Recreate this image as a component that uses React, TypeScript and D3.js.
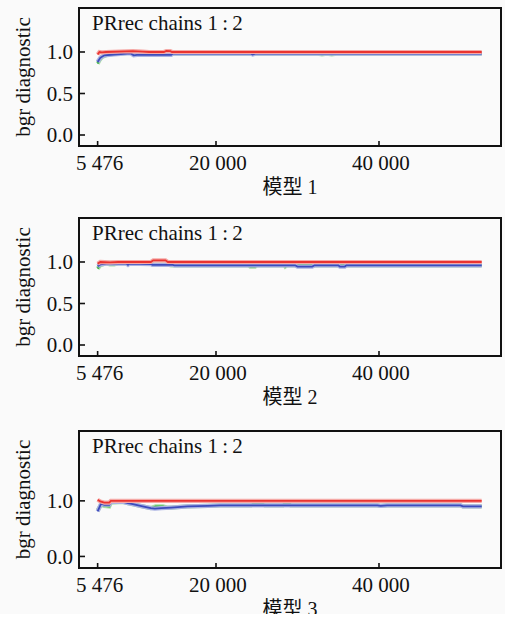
import React from "react";
import * as d3 from "d3";

// x axis (shared by the three panels)
const xTicks = [5476, 20000, 40000];
const xTickLabels = ["5 476", "20 000", "40 000"];
const xDomain: [number, number] = [3190, 54970];

const panelTitles = ["PRrec chains 1\u2009:\u20092", "PRrec chains 1\u2009:\u20092", "PRrec chains 1\u2009:\u20092"];
const panelXLabels = ["模型 1", "模型 2", "模型 3"];

// y ticks per panel
const yTicks12 = [0, 0.5, 1.0];
const yTicks3 = [0, 1.0];

// model 1: [iteration, bgr]
const m1Green: [number, number][] = [
  [5476, 0.86], [5700, 0.9], [6000, 0.94], [6500, 0.96], [7500, 0.98], [9000, 0.99],
  [9800, 1.0], [11000, 1.0], [12500, 0.99], [14000, 1.0], [14500, 0.98], [32500, 0.98],
  [33000, 0.97], [33600, 0.98], [34200, 0.97], [34800, 0.98], [52600, 0.98],
];
const m1Blue: [number, number][] = [
  [5476, 0.88], [5800, 0.93], [6300, 0.96], [7500, 0.97], [9500, 0.985], [9900, 0.96],
  [10300, 0.965], [14500, 0.965], [14700, 0.98], [24300, 0.98], [24500, 0.97],
  [24800, 0.98], [52600, 0.98],
];
const m1Red: [number, number][] = [
  [5476, 0.97], [5700, 1.0], [6000, 0.995], [6500, 1.0], [9800, 1.01], [11000, 1.005],
  [11800, 1.0], [13600, 1.0], [13900, 1.012], [14400, 1.01], [14600, 1.0], [52600, 1.0],
];

// model 2
const m2Green: [number, number][] = [
  [5476, 0.92], [5800, 0.96], [6500, 0.985], [7000, 0.97], [7500, 0.97], [8000, 0.985],
  [12000, 0.985], [12300, 0.97], [14000, 0.97], [14500, 0.96], [24000, 0.96],
  [24200, 0.945], [24800, 0.945], [25000, 0.96], [28400, 0.96], [28500, 0.945],
  [28700, 0.96], [52600, 0.96],
];
const m2Blue: [number, number][] = [
  [5476, 0.95], [5800, 0.97], [6500, 0.98], [9000, 0.98], [9200, 0.965], [9400, 0.98],
  [12000, 0.975], [12200, 0.965], [14700, 0.965], [14900, 0.96], [29700, 0.96],
  [30000, 0.945], [31800, 0.945], [32100, 0.96], [35000, 0.96], [35200, 0.945],
  [35800, 0.945], [36000, 0.96], [52600, 0.96],
];
const m2Red: [number, number][] = [
  [5476, 0.98], [5800, 1.0], [7000, 0.995], [8000, 1.0], [12000, 1.0], [12300, 1.02],
  [13800, 1.02], [14100, 1.0], [52600, 1.0],
];

// model 3
const m3Green: [number, number][] = [
  [5476, 0.83], [5900, 0.93], [6300, 0.91], [6900, 0.9], [7100, 0.97], [8600, 0.98],
  [9200, 0.96], [9800, 0.94], [11000, 0.9], [12000, 0.87], [12600, 0.9], [13500, 0.9],
  [14000, 0.88], [14500, 0.88], [16500, 0.9], [19000, 0.91], [20500, 0.92], [24300, 0.92],
  [24500, 0.94], [25800, 0.94], [26000, 0.92], [28200, 0.92], [28300, 0.94], [29100, 0.94],
  [29200, 0.92], [39800, 0.92], [40200, 0.91], [41000, 0.92], [50000, 0.92], [50300, 0.9],
  [52600, 0.9],
];
const m3Blue: [number, number][] = [
  [5476, 0.81], [5900, 0.95], [6300, 0.93], [6900, 0.93], [7100, 0.98], [8600, 0.98],
  [9200, 0.96], [9800, 0.94], [11000, 0.9], [12000, 0.87], [12500, 0.86], [13300, 0.87],
  [14500, 0.88], [16500, 0.9], [19000, 0.91], [20500, 0.92], [39800, 0.92], [40200, 0.91],
  [41000, 0.92], [50000, 0.92], [50300, 0.9], [52600, 0.9],
];
const m3Red: [number, number][] = [
  [5476, 1.02], [5800, 0.99], [6300, 0.97], [6900, 0.97], [7100, 1.0], [52600, 1.0],
];

const W = 505;
const H = 619;
const left = 79;
const right = 501;
const font = "'Liberation Serif', 'Times New Roman', 'Noto Sans CJK SC', serif";

const colors = {
  green: { line: "#2fae3a", halo: "#a9dca6" },
  blue: { line: "#3c4cbc", halo: "#aab2e2" },
  red: { line: "#ea3330", halo: "#f5a9a6" },
};

type Panel = {
  top: number;
  height: number;
  yDomain: [number, number];
  yTicks: number[];
  series: { pts: [number, number][]; c: { line: string; halo: string } }[];
};

const panels: Panel[] = [
  {
    top: 8, height: 138, yDomain: [-0.1325, 1.53], yTicks: yTicks12,
    series: [{ pts: m1Green, c: colors.green }, { pts: m1Blue, c: colors.blue }, { pts: m1Red, c: colors.red }],
  },
  {
    top: 218, height: 138, yDomain: [-0.1325, 1.53], yTicks: yTicks12,
    series: [{ pts: m2Green, c: colors.green }, { pts: m2Blue, c: colors.blue }, { pts: m2Red, c: colors.red }],
  },
  {
    top: 431, height: 137, yDomain: [-0.208, 2.257], yTicks: yTicks3,
    series: [{ pts: m3Green, c: colors.green }, { pts: m3Blue, c: colors.blue }, { pts: m3Red, c: colors.red }],
  },
];

const x = d3.scaleLinear().domain(xDomain).range([left, right]);

function PanelView({ p, i }: { p: Panel; i: number }) {
  const bottom = p.top + p.height;
  const y = d3.scaleLinear().domain(p.yDomain).range([bottom, p.top]);
  const line = d3.line<[number, number]>().x((d) => x(d[0])).y((d) => y(d[1]));
  const midY = (p.top + bottom) / 2;
  return (
    <g>
      {p.series.map((s, k) => (
        <g key={k}>
          <path d={line(s.pts) || ""} fill="none" stroke={s.c.halo} strokeWidth={4.2} />
          <path d={line(s.pts) || ""} fill="none" stroke={s.c.line} strokeWidth={1.8} />
        </g>
      ))}
      <rect x={left} y={p.top} width={right - left} height={p.height} fill="none" stroke="#111" strokeWidth={2} />
      {p.yTicks.map((t) => (
        <g key={t}>
          <line x1={left} x2={left + 6} y1={y(t)} y2={y(t)} stroke="#111" strokeWidth={1.6} />
          <text x={left - 6} y={y(t)} dy="0.35em" textAnchor="end" fontSize={21} fontFamily={font} fill="#111">
            {d3.format(".1f")(t)}
          </text>
        </g>
      ))}
      {xTicks.map((t, k) => (
        <g key={t}>
          <line x1={x(t)} x2={x(t)} y1={bottom} y2={bottom - 5} stroke="#111" strokeWidth={1.6} />
          <text x={x(t) + 2} y={bottom + 24} textAnchor="middle" fontSize={21} fontFamily={font} fill="#111">
            {xTickLabels[k]}
          </text>
        </g>
      ))}
      <text x={92} y={p.top + 22} fontSize={21} fontFamily={font} fill="#111">
        {panelTitles[i]}
      </text>
      <text x={(left + right) / 2} y={bottom + 48} textAnchor="middle" fontSize={20} fontFamily={font} fill="#111">
        {panelXLabels[i]}
      </text>
      <text
        transform={`translate(29.5,${midY}) rotate(-90)`}
        textAnchor="middle"
        fontSize={21}
        fontFamily={font}
        fill="#111"
      >
        bgr diagnostic
      </text>
    </g>
  );
}

export default function App() {
  return (
    <svg width={W} height={H} style={{ position: "absolute", left: 0, top: 0 }}>
      <rect width={W} height={H} fill="#fafafa" />
      {panels.map((p, i) => (
        <PanelView key={i} p={p} i={i} />
      ))}
      <rect x={0} y={614} width={W} height={H - 614} fill="#ffffff" />
    </svg>
  );
}
